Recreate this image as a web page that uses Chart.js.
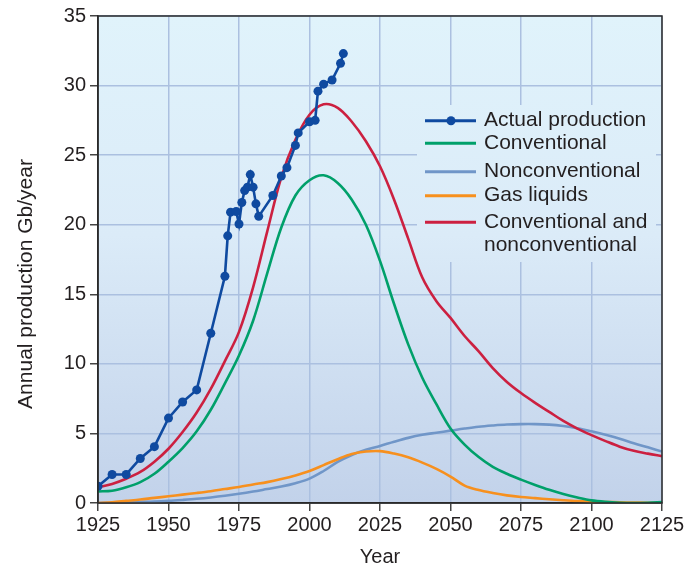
<!DOCTYPE html>
<html>
<head>
<meta charset="utf-8">
<script src="https://cdn.jsdelivr.net/npm/chart.js@4.4.1/dist/chart.umd.min.js"></script>
<style>
  html, body { margin: 0; padding: 0; background: #fff; }
  #wrap { width: 700px; height: 569px; }
</style>
</head>
<body>
<div id="wrap"><canvas id="oilChart" width="700" height="569"></canvas></div>
<script>
// years shared by the four model curves
const curveYears = [1925, 1930, 1935, 1940, 1945, 1950, 1955, 1960, 1965, 1970, 1975, 1980, 1985, 1990, 1995, 2000,
    2005, 2010, 2015, 2020, 2025, 2030, 2035, 2040, 2045, 2050, 2055, 2060, 2065, 2070, 2075, 2080, 2085, 2090,
    2095, 2100, 2105, 2110, 2115, 2120, 2125];

const conventional = [0.83, 0.88, 1.13, 1.5, 2.1, 2.97, 3.95, 5.15, 6.7, 8.6, 10.6, 13.1, 16.5, 19.8, 22.1, 23.2,
    23.55, 23.0, 21.8, 20.0, 17.4, 14.3, 11.4, 9.0, 7.1, 5.36, 4.2, 3.3, 2.6, 2.1, 1.68, 1.3, 0.95, 0.65,
    0.4, 0.19, 0.08, 0.02, 0.0, 0.02, 0.07];

const nonconventional = [0.0, 0.02, 0.04, 0.07, 0.1, 0.15, 0.22, 0.3, 0.4, 0.52, 0.66, 0.82, 1.0, 1.18, 1.42, 1.75,
    2.3, 2.95, 3.45, 3.82, 4.1, 4.4, 4.68, 4.9, 5.05, 5.2, 5.35, 5.48, 5.57, 5.64, 5.67, 5.67, 5.63, 5.53,
    5.37, 5.15, 4.9, 4.62, 4.3, 4.0, 3.7];

const gasLiquids = [0.0, 0.05, 0.15, 0.25, 0.37, 0.48, 0.6, 0.72, 0.85, 1.0, 1.15, 1.33, 1.5, 1.72, 1.98, 2.3,
    2.72, 3.15, 3.52, 3.7, 3.73, 3.55, 3.28, 2.9, 2.45, 1.9, 1.25, 0.93, 0.72, 0.55, 0.43, 0.35, 0.27, 0.2,
    0.14, 0.1, 0.07, 0.05, 0.03, 0.02, 0.02];

const convAndNonconv = [1.13, 1.37, 1.74, 2.23, 2.97, 3.9, 5.1, 6.5, 8.2, 10.2, 12.3, 15.5, 19.5, 23.4, 26.1, 27.9,
    28.65, 28.4, 27.4, 26.0, 24.2, 21.8, 19.0, 16.2, 14.5, 13.3, 12.0, 10.9, 9.7, 8.7, 7.9, 7.2, 6.55, 5.9,
    5.35, 4.88, 4.45, 4.05, 3.75, 3.55, 3.37];

// observed production
const actualYears = [1925, 1930, 1935, 1940, 1945, 1950, 1955, 1960, 1965, 1970, 1971, 1972, 1974, 1975, 1976,
    1977, 1978, 1979, 1980, 1981, 1982, 1987, 1990, 1992, 1995, 1996, 2000, 2002, 2003, 2005, 2008, 2011, 2012];
const actualValues = [1.2, 2.05, 2.05, 3.2, 4.05, 6.1, 7.26, 8.13, 12.2, 16.3, 19.2, 20.9, 20.95, 20.05, 21.6,
    22.45, 22.7, 23.6, 22.7, 21.5, 20.6, 22.1, 23.5, 24.1, 25.7, 26.6, 27.4, 27.5, 29.6, 30.1, 30.4, 31.6, 32.3];

const xTicks = [1925, 1950, 1975, 2000, 2025, 2050, 2075, 2100, 2125];
const yTicks = [0, 5, 10, 15, 20, 25, 30, 35];

const legendLabels = ["Actual production", "Conventional", "Nonconventional", "Gas liquids", "Conventional and", "nonconventional"];
const yTitle = "Annual production Gb/year";

const COLORS = {
    actual: "#0f4aa0",
    conv: "#00a06a",
    nonconv: "#7096c8",
    gas: "#f7901e",
    total: "#cc2040",
    text: "#231f20",
    grid: "#abc0e0"
};
const FONT = "'Liberation Sans', Arial, sans-serif";

function toPoints(xs, ys) {
    return xs.map((x, i) => ({ x: x, y: ys[i] }));
}

let bgGradient = null;

// plot background gradient + frame + y title
const backdrop = {
    id: "backdrop",
    beforeDraw(chart) {
        const { ctx, chartArea: a } = chart;
        bgGradient = ctx.createLinearGradient(0, a.top, 0, a.bottom);
        bgGradient.addColorStop(0, "#e0f3fb");
        bgGradient.addColorStop(0.45, "#dbebf8");
        bgGradient.addColorStop(1, "#c2d2ea");
        ctx.save();
        ctx.fillStyle = bgGradient;
        ctx.fillRect(a.left, a.top, a.right - a.left, a.bottom - a.top);
        ctx.restore();
    },
    afterDraw(chart) {
        const { ctx, chartArea: a } = chart;
        ctx.save();
        ctx.strokeStyle = "#2a2a2a";
        ctx.lineWidth = 1.5;
        ctx.strokeRect(a.left, a.top, a.right - a.left, a.bottom - a.top);

        // y axis title, placed a bit lower than centre like the original
        ctx.translate(26, 284);
        ctx.rotate(-Math.PI / 2);
        ctx.fillStyle = COLORS.text;
        ctx.font = "21px " + FONT;
        ctx.textAlign = "center";
        ctx.textBaseline = "middle";
        ctx.fillText(yTitle, 0, 0);
        ctx.restore();
    }
};

// legend box inside the plot, hides grid behind it
const insideLegend = {
    id: "insideLegend",
    beforeDatasetsDraw(chart) {
        const ctx = chart.ctx;
        ctx.save();
        ctx.fillStyle = bgGradient;
        ctx.fillRect(417, 105, 239, 157);

        const rows = [120.7, 143.3, 171.7, 195.7, 222.3, 245];
        const cols = [COLORS.actual, COLORS.conv, COLORS.nonconv, COLORS.gas, COLORS.total, null];
        ctx.lineWidth = 3;
        rows.forEach((y, i) => {
            if (cols[i]) {
                ctx.strokeStyle = cols[i];
                ctx.beginPath();
                ctx.moveTo(425, y);
                ctx.lineTo(476, y);
                ctx.stroke();
            }
            if (i === 0) {
                ctx.fillStyle = COLORS.actual;
                ctx.beginPath();
                ctx.arc(451, y, 4.5, 0, Math.PI * 2);
                ctx.fill();
            }
            ctx.fillStyle = COLORS.text;
            ctx.font = "21px " + FONT;
            ctx.textBaseline = "middle";
            ctx.textAlign = "left";
            ctx.fillText(legendLabels[i], 484, y);
        });
        ctx.restore();
    }
};

const curveStyle = {
    borderWidth: 2.6,
    pointRadius: 0,
    fill: false,
    tension: 0.35
};

new Chart(document.getElementById("oilChart"), {
    type: "line",
    data: {
        datasets: [
            {
                label: "Actual production",
                data: toPoints(actualYears, actualValues),
                borderColor: COLORS.actual,
                backgroundColor: COLORS.actual,
                borderWidth: 2.6,
                pointRadius: 4.5,
                pointBorderWidth: 0,
                tension: 0
            },
            { label: "Conventional and nonconventional", data: toPoints(curveYears, convAndNonconv), borderColor: COLORS.total, ...curveStyle },
            { label: "Conventional", data: toPoints(curveYears, conventional), borderColor: COLORS.conv, ...curveStyle },
            { label: "Gas liquids", data: toPoints(curveYears, gasLiquids), borderColor: COLORS.gas, ...curveStyle },
            { label: "Nonconventional", data: toPoints(curveYears, nonconventional), borderColor: COLORS.nonconv, ...curveStyle }
        ]
    },
    options: {
        responsive: false,
        animation: false,
        devicePixelRatio: 1,
        layout: { padding: { top: 16, right: 38, left: 0, bottom: 0 } },
        plugins: {
            legend: { display: false },
            tooltip: { enabled: false }
        },
        scales: {
            x: {
                type: "linear",
                min: 1925,
                max: 2125,
                afterBuildTicks: s => { s.ticks = xTicks.map(v => ({ value: v })); },
                afterFit: s => { s.height = 66; },
                ticks: {
                    color: COLORS.text,
                    font: { family: FONT, size: 20 },
                    padding: 2,
                    maxRotation: 0,
                    callback: v => String(v)
                },
                grid: { color: COLORS.grid, lineWidth: 1.5, tickLength: 8, tickColor: "#444", tickWidth: 1.5 },
                border: { color: "#2a2a2a", width: 1.5 },
                title: {
                    display: true,
                    text: "Year",
                    color: COLORS.text,
                    font: { family: FONT, size: 20 },
                    padding: { top: 0, bottom: 0 }
                }
            },
            y: {
                min: 0,
                max: 35,
                afterBuildTicks: s => { s.ticks = yTicks.map(v => ({ value: v })); },
                afterFit: s => { s.width = 98; },
                ticks: {
                    color: COLORS.text,
                    font: { family: FONT, size: 20 },
                    padding: 4
                },
                grid: { color: COLORS.grid, lineWidth: 1.5, tickLength: 8, tickColor: "#444", tickWidth: 1.5 },
                border: { color: "#2a2a2a", width: 1.5 }
            }
        }
    },
    plugins: [backdrop, insideLegend]
});
</script>
</body>
</html>
